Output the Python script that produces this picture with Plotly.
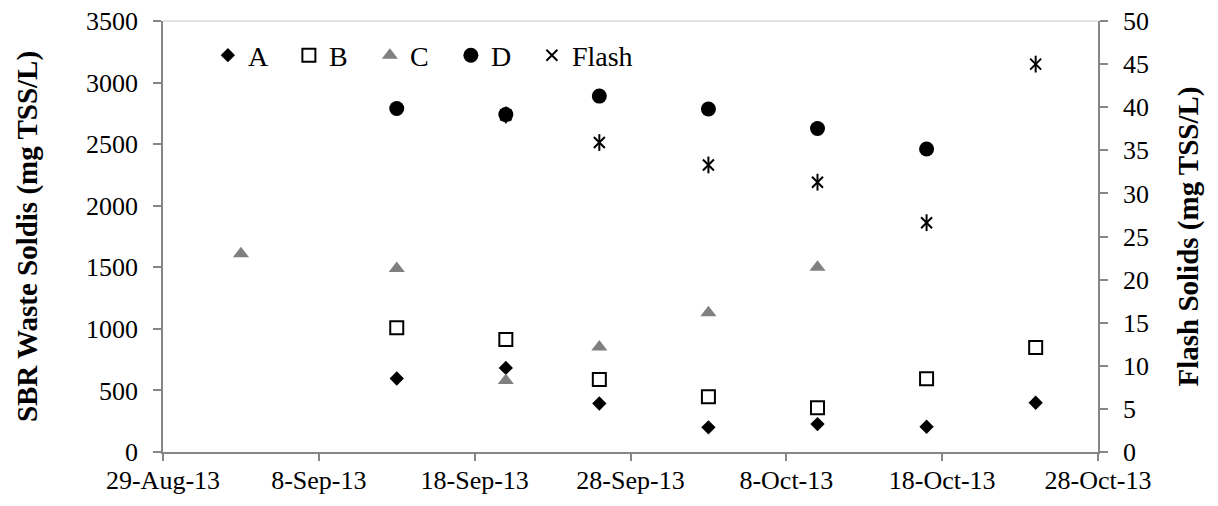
import plotly.graph_objects as go

# Sampling dates and measured solids (mg TSS/L)
dates_a = ["2013-09-13", "2013-09-20", "2013-09-26", "2013-10-03", "2013-10-10", "2013-10-17", "2013-10-24"]
sbr_a = [597, 683, 394, 200, 227, 205, 400]

dates_b = ["2013-09-13", "2013-09-20", "2013-09-26", "2013-10-03", "2013-10-10", "2013-10-17", "2013-10-24"]
sbr_b = [1010, 913, 589, 448, 359, 594, 848]

dates_c = ["2013-09-03", "2013-09-13", "2013-09-20", "2013-09-26", "2013-10-03", "2013-10-10"]
sbr_c = [1610, 1490, 580, 853, 1130, 1500]

dates_d = ["2013-09-13", "2013-09-20", "2013-09-26", "2013-10-03", "2013-10-10", "2013-10-17"]
sbr_d = [2790, 2740, 2890, 2785, 2627, 2460]

dates_flash = ["2013-09-20", "2013-09-26", "2013-10-03", "2013-10-10", "2013-10-17", "2013-10-24"]
flash_solids = [39.1, 35.9, 33.3, 31.3, 26.6, 45.0]

x_ticks = ["2013-08-29", "2013-09-08", "2013-09-18", "2013-09-28", "2013-10-08", "2013-10-18", "2013-10-28"]

FONT = "Liberation Serif"
AXIS_GRAY = "#868686"
TICK_SIZE = 26
TITLE_SIZE = 29
LEGEND_SIZE = 28

fig = go.Figure()

fig.add_trace(go.Scatter(
    x=dates_a, y=sbr_a, mode="markers", name="A", legendrank=1,
    marker=dict(symbol="diamond", size=11, color="black"),
))
fig.add_trace(go.Scatter(
    x=dates_b, y=sbr_b, mode="markers", name="B", legendrank=2,
    marker=dict(symbol="square-open", size=13, color="black", line=dict(width=2, color="black")),
))
fig.add_trace(go.Scatter(
    x=dates_c, y=sbr_c, mode="markers", name="C", legendrank=3,
    marker=dict(symbol="triangle-up", size=14, color="#808080"),
))
# Flash marker: an "x" plus a vertical stroke gives the six-armed asterisk
fig.add_trace(go.Scatter(
    x=dates_flash, y=flash_solids, mode="markers", name="Flash", yaxis="y2", legendrank=5,
    marker=dict(symbol="x-thin-open", size=11, color="black", line=dict(width=2, color="black")),
))
fig.add_trace(go.Scatter(
    x=dates_flash, y=flash_solids, mode="markers", name="Flash", yaxis="y2",
    marker=dict(symbol="line-ns-open", size=12, color="black", line=dict(width=2, color="black")),
    showlegend=False,
))
fig.add_trace(go.Scatter(
    x=dates_d, y=sbr_d, mode="markers", name="D", legendrank=4,
    marker=dict(symbol="circle", size=15, color="black"),
))
# empty trailing legend slot so the fixed-width entries leave room for "Flash"
fig.add_trace(go.Scatter(
    x=[None], y=[None], mode="markers", name=" ", legendrank=6,
    marker=dict(size=1, color="rgba(0,0,0,0)", opacity=0), hoverinfo="skip",
))

axis_common = dict(
    ticks="outside", tickwidth=1.5, tickcolor=AXIS_GRAY,
    showline=True, linecolor=AXIS_GRAY, linewidth=1.5,
    showgrid=False, zeroline=False, automargin=False,
    tickfont=dict(family=FONT, size=TICK_SIZE, color="black"),
)

fig.update_layout(
    width=1218, height=506,
    margin=dict(l=163, r=120, t=21, b=54),
    paper_bgcolor="white", plot_bgcolor="white",
    font=dict(family=FONT, size=TICK_SIZE, color="black"),
    showlegend=True,
    legend=dict(
        orientation="h", x=0.048, y=0.92, xanchor="left", yanchor="middle",
        font=dict(family=FONT, size=LEGEND_SIZE, color="black"),
        entrywidth=36, entrywidthmode="pixels", itemwidth=30,
        bgcolor="rgba(0,0,0,0)", traceorder="normal",
    ),
    xaxis=dict(
        type="date", range=["2013-08-29", "2013-10-28"],
        tickvals=x_ticks, tickformat="%-d-%b-%y", ticklen=7, ticklabelstandoff=-3,
        **axis_common,
    ),
    yaxis=dict(
        range=[0, 3500], dtick=500, ticklen=8, ticklabelstandoff=10,
        title=dict(text="<b>SBR Waste Soldis (mg TSS/L)</b>",
                   font=dict(family=FONT, size=TITLE_SIZE, color="black"), standoff=40),
        **axis_common,
    ),
    yaxis2=dict(
        overlaying="y", side="right", range=[0, 50], dtick=5, ticklen=8, ticklabelstandoff=10,
        title=dict(text="<b>Flash Solids (mg TSS/L)</b>",
                   font=dict(family=FONT, size=TITLE_SIZE, color="black"), standoff=30),
        **axis_common,
    ),
    shapes=[dict(
        type="line", xref="paper", yref="paper", x0=0, x1=1, y0=1, y1=1,
        line=dict(color="#d9d9d9", width=1.5), layer="below",
    )],
)

fig.write_html("out.html")
